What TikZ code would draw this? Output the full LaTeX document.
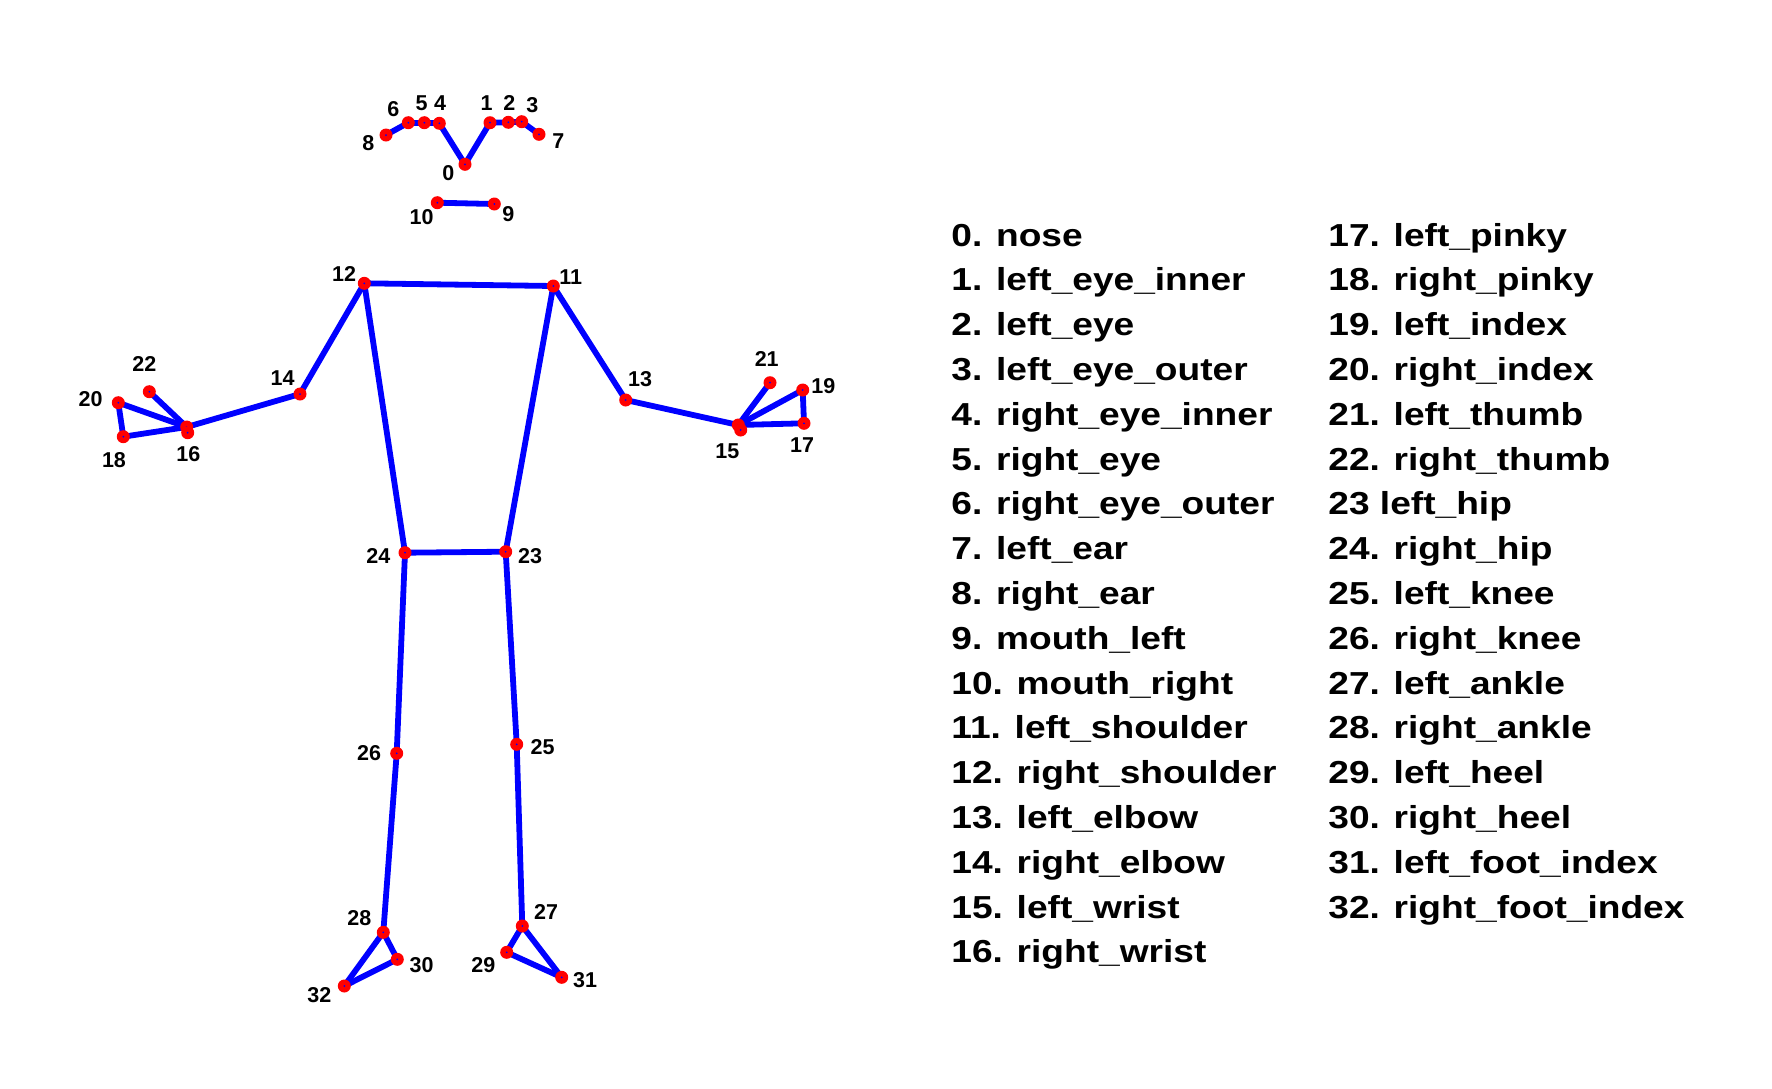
\documentclass[tikz,border=0pt]{standalone}
\usepackage{fontspec}
\setmainfont{Liberation Sans}
\newfontfamily\legendfont[FakeStretch=1.167]{Liberation Sans}
\usetikzlibrary{backgrounds}

\begin{document}
\begin{tikzpicture}[
        x=0.5pt, y=-0.5pt,
        joint/.style={circle, fill=red, inner sep=0pt, minimum size=6.5pt,
            path picture={\fill[blue] (path picture bounding box.center) circle (0.5pt);}},
        bone/.style={draw=blue, line width=2.9pt},
        num/.style={font=\fontsize{10.75}{12}\selectfont\bfseries, inner sep=0pt},
        item/.style={font=\legendfont\fontsize{15.9}{18}\selectfont\bfseries, inner sep=0pt, anchor=base west},
    ]

    \useasboundingbox (0,0) rectangle (1772,1088);

    % Joints
    \foreach \k/\x/\y in {0/465/164.3, 1/490/122.7, 2/508.3/122.3, 3/521.7/121.7,
        4/439.3/123.3, 5/424.3/122.7, 6/408.3/122.7, 7/539/134.3, 8/386/135,
        9/494.3/204, 10/437.3/202.7, 11/553.3/286, 12/364.3/283.3,
        13/625.7/400, 14/300/394, 15/738.3/425, 16/186.7/427,
        17/804/423.3, 18/123.3/436.7, 19/802.7/390, 20/118.3/402.7,
        21/770/382.7, 22/149.3/391.7, 23/505.7/551.7, 24/405/552.7,
        25/516.7/744.3, 26/396.7/753.3, 27/522.3/926, 28/383.3/932.3,
        29/506.7/952.3, 30/397.3/959.3, 31/561.7/977.3, 32/344.3/986}
        \node[joint] (j\k) at (\x,\y) {};

    % second dot at each wrist
    \node[joint] (j15b) at (740.7,430) {};
    \node[joint] (j16b) at (187.7,432.7) {};

    % Bones behind the joints
    \begin{scope}[on background layer]
        \foreach \a/\b in {8/6, 6/5, 5/4, 4/0, 0/1, 1/2, 2/3, 3/7, 10/9,
            12/11, 12/14, 14/16, 16/22, 16/20, 16/18, 20/18,
            11/13, 13/15, 15/21, 15/19, 15/17, 19/17,
            12/24, 11/23, 24/23, 24/26, 26/28, 28/30, 28/32, 30/32,
            23/25, 25/27, 27/29, 27/31, 29/31}
            \draw[bone] (j\a.center) -- (j\b.center);
    \end{scope}

    % Joint numbers
    \foreach \k/\x/\y in {0/448.3/173.3, 1/486.7/103.3, 2/509.3/103.3, 3/532.3/105,
        4/440/103.3, 5/421.7/103.3, 6/393.3/109.3, 7/558.3/141, 8/368.3/142.7,
        9/508.3/214, 10/421.7/216.7, 11/570.7/277.3, 12/344/274,
        13/640/379.3, 14/282.7/378.3, 15/727.3/450.7, 16/188.3/454,
        17/802/445, 18/114/460, 19/823.3/386, 20/90.7/399,
        21/766.7/359.3, 22/144.3/364.3, 23/530/556, 24/378.3/556,
        25/542.7/746.7, 26/369/753.3, 27/546/911.7, 28/359.3/918.3,
        29/483.3/965, 30/421.7/965, 31/585/980, 32/319.3/995}
        \node[num] (n\k) at (\x,\y) {\k};

    % Legend, first column
    \foreach \txt [count=\r from 0] in {0. nose, 1. left\_eye\_inner, 2. left\_eye,
        3. left\_eye\_outer, 4. right\_eye\_inner, 5. right\_eye, 6. right\_eye\_outer,
        7. left\_ear, 8. right\_ear, 9. mouth\_left, 10. mouth\_right,
        11. left\_shoulder, 12. right\_shoulder, 13. left\_elbow, 14. right\_elbow,
        15. left\_wrist, 16. right\_wrist}
        \node[item] (item\r) at (951,246+44.8*\r) {\txt};

    % Legend, second column
    \foreach \txt [count=\r from 0] in {17. left\_pinky, 18. right\_pinky, 19. left\_index,
        20. right\_index, 21. left\_thumb, 22. right\_thumb, 23 left\_hip,
        24. right\_hip, 25. left\_knee, 26. right\_knee, 27. left\_ankle,
        28. right\_ankle, 29. left\_heel, 30. right\_heel, 31. left\_foot\_index,
        32. right\_foot\_index}
        \node[item] (itemb\r) at (1328,246+44.8*\r) {\txt};

\end{tikzpicture}
\end{document}
